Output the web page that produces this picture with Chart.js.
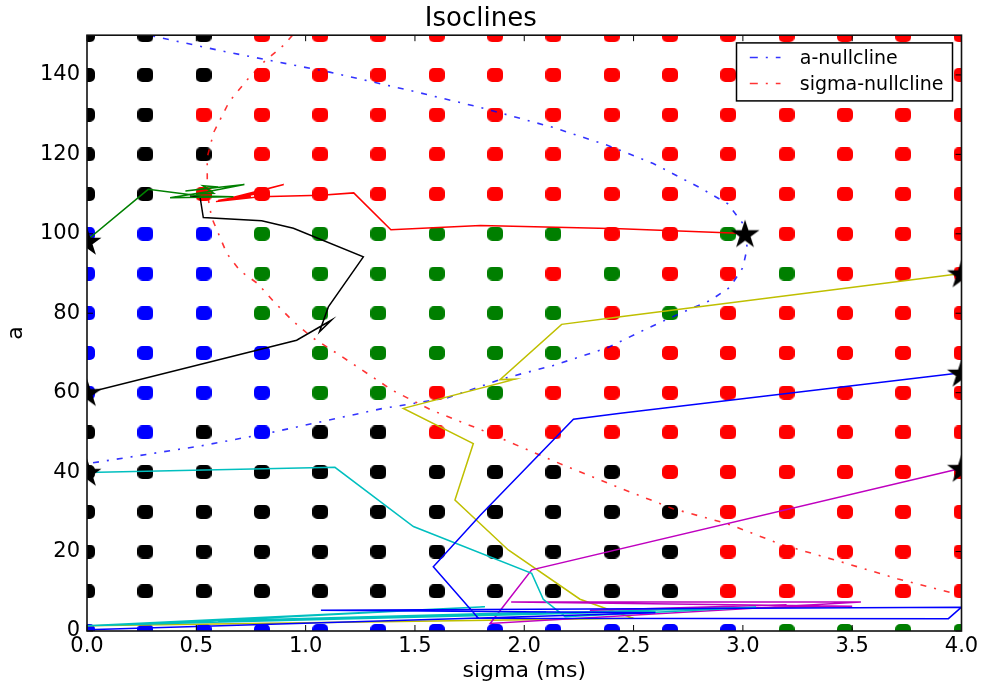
<!DOCTYPE html>
<html>
<head>
<meta charset="utf-8">
<title>Isoclines</title>
<script src="https://cdn.jsdelivr.net/npm/chart.js@4.4.1/dist/chart.umd.min.js"></script>
<style>
  html, body { margin: 0; padding: 0; background: #ffffff; }
  canvas { display: block; }
</style>
</head>
<body>
<canvas id="chart" width="984" height="687"></canvas>
<script>
// ---- sampling grid of initial conditions (sigma across, a down) ----
const sigmaGrid = [0, 0.267, 0.533, 0.8, 1.067, 1.333, 1.6, 1.867, 2.133, 2.4, 2.667, 2.933, 3.2, 3.467, 3.733, 4.0];
const aGrid = [150, 140, 130, 120, 110, 100, 90, 80, 70, 60, 50, 40, 30, 20, 10, 0];
// outcome class of each grid point, one string per row of aGrid (k, r, g, b)
const outcomeRows = [
  'kkkrrrrrrrrrrrrr',
  'kkkrrrrrrrrrrrrr',
  'kkrrrrrrrrrrrrrr',
  'kkkrrrrrrrrrrrrr',
  'kkrrrrrrrrrrrrrr',
  'bbbggggggrrgrrrr',
  'bbbgggggrgrrgrrr',
  'bbbggggggrgrrrrr',
  'bbbbgggggrrrrrrr',
  'bbbbggrgrrrrrrrr',
  'kbkbkkrrrrrrrrrr',
  'kkkkkkkkkkrrrrrr',
  'kkkkkkkkkkkrrrrr',
  'kkkkkkkkkkkrrrrr',
  'kkkkkkkkkkkrrrrr',
  'bbbbbbbbbbbbgggg'
];

// ---- nullclines [sigma, a] ----
const aNullcline = [
  [0.24, 150.5], [0.62, 146], [1.11, 140.7], [1.5, 135.8], [1.80, 131.8], [2.13, 126.8],
  [2.38, 122.3], [2.59, 117.7], [2.80, 111.7], [2.93, 107.6], [3.0, 102.6], [3.02, 96.5],
  [3.0, 91.5], [2.94, 86.5], [2.85, 83.2], [2.71, 79.9], [2.56, 76.1], [2.38, 71.3],
  [2.13, 66.8], [1.90, 63.5], [1.65, 58.7], [1.35, 56.0], [0.82, 49.7], [0.52, 46.6], [0, 42.1]
];
const sigmaNullcline = [
  [0.94, 150], [0.90, 147.5], [0.81, 143.3], [0.73, 138.6], [0.65, 133.2], [0.58, 125.6],
  [0.55, 119.3], [0.55, 110.2], [0.57, 104.1], [0.64, 95], [0.70, 90.7], [0.78, 87.5],
  [0.85, 83.2], [0.94, 78.1], [1.03, 73.9], [1.16, 69.3], [1.40, 60.5], [1.58, 55.5],
  [1.80, 50.7], [2.13, 42.9], [2.41, 36.6], [2.68, 30.8], [2.93, 27.0], [3.17, 21.9],
  [3.48, 16.9], [3.71, 13.1], [4.0, 9.0]
];

// ---- simulated trajectories [sigma, a] ----
const trajBlue = [
  [4.0, 65], [2.44, 54.8], [2.225, 53.3], [1.80, 29.2], [1.584, 16.2], [1.79, 3.2],
  [3.94, 3.1], [4.0, 6.0], [1.07, 5.2], [2.6, 4.6], [0, 0.3]
];
const trajGreen = [
  [0, 98.4], [0.28, 111.2], [0.52, 109.5], [0.67, 109.3], [0.38, 109.1], [0.55, 110.6],
  [0.72, 112.4], [0.45, 110.8], [0.60, 111.8], [0.53, 112.1], [0.58, 110.2], [0.50, 110.0]
];
const trajRed = [
  [3.01, 100.1], [2.44, 101.3], [1.80, 102.1], [1.39, 101.0], [1.22, 110.3], [1.07, 109.7],
  [0.79, 109.3], [0.59, 108.1], [0.90, 112.4], [0.64, 108.6], [0.82, 110.6], [0.60, 108.4], [0.75, 109.4]
];
const trajCyan = [
  [0, 39.9], [1.134, 41.2], [1.493, 26.3], [2.034, 14.5], [2.087, 8.0], [2.187, 3.6],
  [3.06, 6.0], [0, 1.3], [1.82, 6.1], [0.3, 1.8], [2.6, 5.0], [0.6, 2.6], [2.1, 4.8]
];
const trajMagenta = [
  [4.0, 41.0], [2.034, 15.4], [1.844, 1.9], [3.54, 7.3], [1.94, 7.3], [3.50, 6.2],
  [2.3, 5.2], [3.2, 6.6]
];
const trajYellow = [
  [4.0, 90.0], [2.44, 79.1], [2.171, 77.2], [1.889, 63.3], [1.958, 63.4], [1.447, 56.05],
  [1.767, 47.2], [1.683, 33.0], [1.927, 20.4], [2.255, 8.0], [2.499, 3.2], [0, 1.3]
];
const trajBlack = [
  [0, 60.0], [0.959, 73.2], [1.119, 78.3], [1.063, 75.3], [1.104, 81.6], [1.264, 94.2],
  [0.944, 101.4], [0.799, 103.3], [0.532, 104.1], [0.517, 109.3], [0.471, 109.5]
];
// fixed points reached by the runs
const endPoints = [[0, 98.2], [0, 60.1], [0, 40.0], [3.01, 100.1], [4.0, 90.0], [4.0, 65.0], [4.0, 41.0]];

// ---- axis ticks ----
const sigmaTicks = [0, 0.5, 1.0, 1.5, 2.0, 2.5, 3.0, 3.5, 4.0];
const aTicks = [0, 20, 40, 60, 80, 100, 120, 140];

const FONT = '"DejaVu Sans", "Bitstream Vera Sans", sans-serif';
const NULL_DASH = [6, 8, 2, 8];
const toXY = arr => arr.map(([x, y]) => ({ x, y }));

// rounded-square marker used for grid points
function makeDot(color) {
  const w = 16, h = 14, r = 5;
  const c = document.createElement('canvas');
  c.width = w; c.height = h;
  const g = c.getContext('2d');
  g.fillStyle = color;
  g.beginPath();
  g.moveTo(r, 0);
  g.lineTo(w - r, 0); g.arcTo(w, 0, w, r, r);
  g.lineTo(w, h - r); g.arcTo(w, h, w - r, h, r);
  g.lineTo(r, h); g.arcTo(0, h, 0, h - r, r);
  g.lineTo(0, r); g.arcTo(0, 0, r, 0, r);
  g.closePath();
  g.fill();
  return c;
}

// filled five-pointed star marker
function makeStar() {
  const s = 34, R = 15.2, ri = R * 0.382;
  const c = document.createElement('canvas');
  c.width = s; c.height = s;
  const g = c.getContext('2d');
  g.fillStyle = '#000000';
  g.beginPath();
  for (let i = 0; i < 10; i++) {
    const rad = (i % 2 === 0) ? R : ri;
    const ang = -Math.PI / 2 + i * Math.PI / 5;
    const px = s / 2 + rad * Math.cos(ang);
    const py = s / 2 + 1.5 + rad * Math.sin(ang);
    if (i === 0) g.moveTo(px, py); else g.lineTo(px, py);
  }
  g.closePath();
  g.fill();
  return c;
}

const classColors = { k: '#000000', r: '#ff0000', g: '#007f00', b: '#0000ff' };
const datasets = [];

// grid points, one dataset per outcome class
Object.keys(classColors).forEach(code => {
  const pts = [];
  outcomeRows.forEach((row, j) => {
    for (let i = 0; i < row.length; i++) {
      if (row[i] === code) pts.push({ x: sigmaGrid[i], y: aGrid[j] });
    }
  });
  datasets.push({
    label: 'class ' + code,
    data: pts,
    pointStyle: makeDot(classColors[code]),
    pointRadius: 7,
    showLine: false,
    clip: 0,
    order: 4
  });
});

// nullclines
[[aNullcline, 'rgba(0,0,255,0.8)', 'a-nullcline'], [sigmaNullcline, 'rgba(255,0,0,0.8)', 'sigma-nullcline']]
  .forEach(([arr, col, label]) => {
    datasets.push({
      label, data: toXY(arr), showLine: true, borderColor: col, borderWidth: 1.6,
      borderDash: NULL_DASH, pointRadius: 0, fill: false, tension: 0, clip: 0, order: 3
    });
  });

// trajectories (blue, green, red, cyan, magenta, yellow, black)
[[trajBlue, '#0000ff'], [trajGreen, '#008000'], [trajRed, '#ff0000'], [trajCyan, '#00bfbf'],
 [trajMagenta, '#bf00bf'], [trajYellow, '#bfbf00'], [trajBlack, '#000000']]
  .forEach(([arr, col], k) => {
    datasets.push({
      label: 'run ' + (k + 1), data: toXY(arr), showLine: true, borderColor: col, borderWidth: 1.5,
      pointRadius: 0, fill: false, tension: 0, clip: 0, order: 2
    });
  });

// end points
datasets.push({
  label: 'end points', data: toXY(endPoints), pointStyle: makeStar(), pointRadius: 15,
  showLine: false, clip: 0, order: 1
});

// frame, inward ticks on all four sides, and the boxed legend
const framePlugin = {
  id: 'frame',
  afterDatasetsDraw(chart) {
    const { ctx, chartArea: ca, scales: { x, y } } = chart;
    ctx.save();

    // legend
    const lw = 216, lh = 58;
    const lx = ca.right - 9 - lw, ly = ca.top + 7.7;
    ctx.fillStyle = '#ffffff';
    ctx.fillRect(lx, ly, lw, lh);
    ctx.lineWidth = 1.5;
    ctx.strokeStyle = '#000000';
    ctx.strokeRect(lx, ly, lw, lh);
    const entries = [['a-nullcline', 'rgba(0,0,255,0.8)', 14.6, 20.8], ['sigma-nullcline', 'rgba(255,0,0,0.8)', 40.6, 46.8]];
    entries.forEach(([txt, col, lineY, baseY]) => {
      ctx.save();
      ctx.strokeStyle = col;
      ctx.lineWidth = 1.6;
      ctx.setLineDash([8, 8, 2, 8]);
      ctx.beginPath();
      ctx.moveTo(lx + 13.3, ly + lineY);
      ctx.lineTo(lx + 44, ly + lineY);
      ctx.stroke();
      ctx.restore();
      ctx.fillStyle = '#000000';
      ctx.font = '19px ' + FONT;
      ctx.textBaseline = 'alphabetic';
      ctx.textAlign = 'left';
      ctx.fillText(txt, lx + 63.3, ly + baseY);
    });

    // ticks
    ctx.strokeStyle = '#000000';
    ctx.lineWidth = 1;
    const tl = 6;
    ctx.beginPath();
    sigmaTicks.forEach(v => {
      const px = x.getPixelForValue(v);
      ctx.moveTo(px, ca.bottom); ctx.lineTo(px, ca.bottom - tl);
      ctx.moveTo(px, ca.top); ctx.lineTo(px, ca.top + tl);
    });
    aTicks.forEach(v => {
      const py = y.getPixelForValue(v);
      ctx.moveTo(ca.left, py); ctx.lineTo(ca.left + tl, py);
      ctx.moveTo(ca.right, py); ctx.lineTo(ca.right - tl, py);
    });
    ctx.stroke();

    // frame
    ctx.lineWidth = 1.6;
    ctx.strokeStyle = '#111111';
    ctx.strokeRect(ca.left, ca.top, ca.right - ca.left, ca.bottom - ca.top);
    ctx.restore();
  }
};

new Chart(document.getElementById('chart'), {
  type: 'scatter',
  data: { datasets },
  options: {
    responsive: false,
    animation: false,
    events: [],
    layout: { padding: { left: 0, right: 22.5, top: 0, bottom: 0 } },
    plugins: {
      legend: { display: false },
      tooltip: { enabled: false },
      title: {
        display: true, text: 'Isoclines', color: '#000000',
        font: { family: FONT, size: 26, weight: 'normal' },
        padding: { top: 4, bottom: 0 }
      }
    },
    scales: {
      x: {
        type: 'linear', position: 'bottom', min: 0, max: 4,
        grid: { display: false, drawTicks: false },
        border: { display: false },
        afterBuildTicks: s => { s.ticks = sigmaTicks.map(v => ({ value: v })); },
        afterFit: s => { s.height = 56; },
        ticks: {
          color: '#000000', padding: 3, maxRotation: 0, autoSkip: false,
          font: { family: FONT, size: 21 },
          callback: v => Number(v).toFixed(1)
        },
        title: {
          display: true, text: 'sigma (ms)', color: '#000000',
          font: { family: FONT, size: 22 }, padding: { top: 0, bottom: 3 }
        }
      },
      y: {
        type: 'linear', position: 'left', min: 0, max: 150,
        grid: { display: false, drawTicks: false },
        border: { display: false },
        afterBuildTicks: s => { s.ticks = aTicks.map(v => ({ value: v })); },
        afterFit: s => { s.width = 87; },
        ticks: {
          color: '#000000', padding: 7, autoSkip: false,
          font: { family: FONT, size: 21 },
          callback: v => String(v)
        },
        title: {
          display: true, text: 'a', color: '#000000',
          font: { family: FONT, size: 22 }, padding: { top: 3, bottom: 0 }
        }
      }
    }
  },
  plugins: [framePlugin]
});
</script>
</body>
</html>
